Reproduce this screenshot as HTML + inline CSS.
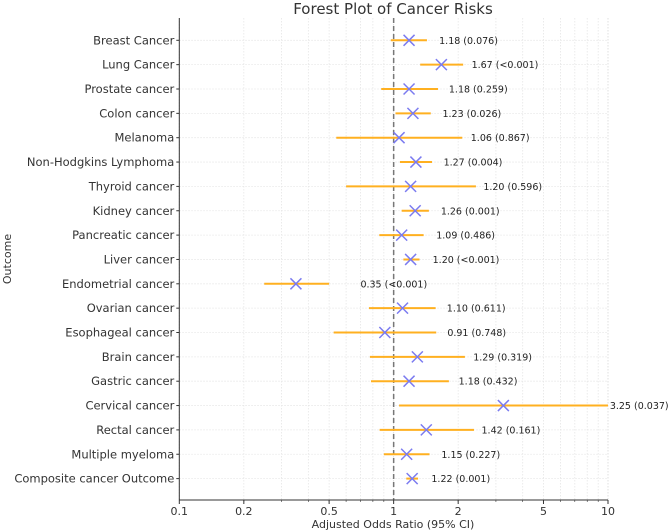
<!DOCTYPE html>
<html><head><meta charset="utf-8"><style>
html,body{margin:0;padding:0;background:#fff;}
svg{display:block;font-family:"DejaVu Sans","Liberation Sans",sans-serif;}
</style></head><body>
<svg id="chart" width="669" height="532" viewBox="0 0 669 532" xmlns="http://www.w3.org/2000/svg">
<text x="393" y="14" text-anchor="middle" font-size="15" fill="#333">Forest Plot of Cancer Risks</text>
<g id="grid"></g>
<g id="marks"></g>
<g id="axes"></g>
<text x="393" y="528" text-anchor="middle" font-size="11" fill="#333">Adjusted Odds Ratio (95% CI)</text>
<text transform="translate(11,259) rotate(-90)" text-anchor="middle" font-size="11" fill="#333">Outcome</text>
</svg>
<script>
const categories=["Breast Cancer","Lung Cancer","Prostate cancer","Colon cancer","Melanoma","Non-Hodgkins Lymphoma","Thyroid cancer","Kidney cancer","Pancreatic cancer","Liver cancer","Endometrial cancer","Ovarian cancer","Esophageal cancer","Brain cancer","Gastric cancer","Cervical cancer","Rectal cancer","Multiple myeloma","Composite cancer Outcome"];
const oddsRatios=[1.18,1.67,1.18,1.23,1.06,1.27,1.20,1.26,1.09,1.20,0.35,1.10,0.91,1.29,1.18,3.25,1.42,1.15,1.22];
const lowerCI=[0.97,1.33,0.875,1.02,0.54,1.07,0.60,1.09,0.857,1.11,0.249,0.767,0.525,0.775,0.784,1.06,0.86,0.90,1.145];
const upperCI=[1.43,2.11,1.61,1.49,2.09,1.51,2.42,1.46,1.38,1.32,0.50,1.57,1.58,2.15,1.81,10.0,2.37,1.47,1.30];
const pValues=["0.076","<0.001","0.259","0.026","0.867","0.004","0.596","0.001","0.486","<0.001","<0.001","0.611","0.748","0.319","0.432","0.037","0.161","0.227","0.001"];
const xTicks=[0.1,0.2,0.5,1,2,5,10];
const xTickLabels=["0.1","0.2","0.5","1","2","5","10"];

const NS="http://www.w3.org/2000/svg";
const X0=179.3,X1=608,Y0=18,Y1=500,ROW0=40.3,ROWSTEP=24.35;
function xs(v){return X0+(Math.log10(v)+1)/2*(X1-X0);}
function ys(i){return ROW0+i*ROWSTEP;}
function mk(tag,attrs,parent){const e=document.createElementNS(NS,tag);for(const k in attrs)e.setAttribute(k,attrs[k]);parent.appendChild(e);return e;}
const grid=document.getElementById('grid'),marks=document.getElementById('marks'),axes=document.getElementById('axes');
for(let d=-1;d<1;d++){for(let m=1;m<10;m++){const v=m*Math.pow(10,d);const x=xs(v);
 const g=mk('line',{x1:x,x2:x,y1:Y0,y2:Y1,stroke:m===1?'#d8d8d8':'#e6e6e6','stroke-width':0.8,'stroke-dasharray':'1.5,1.5'},grid);
 
 }}
{const g=mk('line',{x1:xs(10),x2:xs(10),y1:Y0,y2:Y1,stroke:'#d8d8d8','stroke-width':0.8,'stroke-dasharray':'1.5,1.5'},grid);
 
 }
categories.forEach((c,i)=>{const y=ys(i);
 const g=mk('line',{x1:X0,x2:X1,y1:y,y2:y,stroke:'#e6e6e6','stroke-width':0.8,'stroke-dasharray':'1.5,1.5'},grid);
 
 });
{const r=mk('line',{x1:xs(1),x2:xs(1),y1:Y0,y2:Y1,stroke:'#777','stroke-width':1.5,'stroke-dasharray':'5,3'},marks);
 
 }
categories.forEach((c,i)=>{const y=ys(i);
 const ci=mk('line',{x1:xs(lowerCI[i]),x2:xs(upperCI[i]),y1:y,y2:y,stroke:'#ffb020','stroke-width':2},marks);
 
 
 const x=xs(oddsRatios[i]),s=5.5;
 const p=mk('path',{d:`M${x-s},${y-s}L${x+s},${y+s}M${x-s},${y+s}L${x+s},${y-s}`,stroke:'#7b7bf0','stroke-width':1.5,fill:'none'},marks);
 
 
 const t=mk('text',{x:xs(upperCI[i]+0.2),y:y+3.5,'font-size':9.5,fill:'#222'},marks);
 t.textContent=oddsRatios[i].toFixed(2)+' ('+pValues[i]+')';
 
 
 const tk=mk('line',{x1:X0-3,x2:X0,y1:y,y2:y,stroke:'#333','stroke-width':1},axes);
 
 
 const lb=mk('text',{x:X0-5,y:y+4,'text-anchor':'end','font-size':11.5,fill:'#333'},axes);
 lb.textContent=c;
 
 });
{const a=mk('line',{x1:X0,x2:X0,y1:Y0,y2:Y1,stroke:'#333','stroke-width':1},axes);
 
 
 const b=mk('line',{x1:X0,x2:X1,y1:Y1,y2:Y1,stroke:'#333','stroke-width':1},axes);
 
 }
for(let d=-1;d<1;d++){for(let m=2;m<10;m++){const x=xs(m*Math.pow(10,d));
 const t=mk('line',{x1:x,x2:x,y1:Y1,y2:Y1+2,stroke:'#333','stroke-width':0.6},axes);
 
 }}
xTicks.forEach((v,i)=>{const x=xs(v);
 const t=mk('line',{x1:x,x2:x,y1:Y1,y2:Y1+4,stroke:'#333','stroke-width':1},axes);
 
 
 const l=mk('text',{x:x,y:Y1+15,'text-anchor':'middle','font-size':11,fill:'#333'},axes);
 l.textContent=xTickLabels[i];
 
 });
</script>
</body></html>
